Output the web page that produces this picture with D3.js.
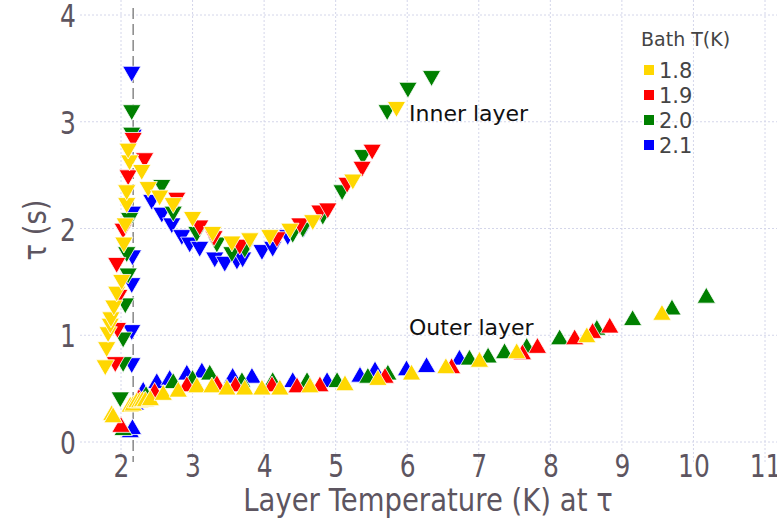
<!DOCTYPE html>
<html>
<head>
<meta charset="utf-8">
<script src="https://cdn.jsdelivr.net/npm/d3@7"></script>
<style>
  body { margin: 0; background: #fff; }
  svg { display: block; font-family: "DejaVu Sans", sans-serif; }
</style>
</head>
<body>
<svg id="chart" width="777" height="522"></svg>
<script>
// bath temperatures (legend order)
var bathTemps = ["1.8", "1.9", "2.0", "2.1"];
var xTicks = [2, 3, 4, 5, 6, 7, 8, 9, 10, 11];
var yTicks = [0, 1, 2, 3, 4];
var lambdaT = 2.17;

// inner layer, [layer T, tau]
var inner18 = [[1.78,0.72],[1.80,0.89],[1.82,1.03],[1.85,1.11],[1.86,1.17],[1.90,1.28],[1.94,1.41],[2.01,1.52],
  [2.04,1.87],[2.06,2.05],[2.08,2.24],[2.08,2.36],[2.12,2.64],[2.10,2.75],[2.29,2.55],[2.38,2.39],[2.54,2.31],
  [2.73,2.24],[3.00,2.11],[3.28,1.97],[3.55,1.88],[3.80,1.91],[4.08,1.94],[4.36,2.00],[4.68,2.08],[5.24,2.46],[5.85,3.14]];
var inner19 = [[1.92,0.75],[1.95,1.07],[1.97,1.38],[1.94,1.68],[2.03,2.00],[2.10,2.50],[2.17,2.85],[2.33,2.66],
  [2.78,2.29],[3.10,2.03],[3.30,1.93],[3.66,1.85],[4.18,1.92],[4.50,2.05],[4.78,2.17],[4.89,2.19],[5.16,2.43],
  [5.37,2.58],[5.51,2.74]];
var inner20 = [[1.99,0.42],[2.03,0.75],[2.03,0.98],[2.06,1.30],[2.10,1.58],[2.08,1.78],[2.12,2.10],[2.15,2.90],
  [2.15,3.11],[2.57,2.41],[2.73,2.16],[3.06,1.97],[3.34,1.87],[3.55,1.78],[3.73,1.82],[4.40,1.96],[4.54,2.01],
  [4.82,2.13],[5.09,2.36],[5.38,2.69],[5.72,3.11],[6.01,3.32],[6.34,3.43]];
var inner21 = [[2.15,0.74],[2.15,1.05],[2.15,1.49],[2.16,1.75],[2.16,2.16],[2.17,2.88],[2.15,3.47],[2.43,2.27],
  [2.57,2.15],[2.71,2.05],[2.85,1.94],[2.96,1.87],[3.10,1.83],[3.31,1.73],[3.45,1.69],[3.62,1.71],[3.70,1.73],
  [3.97,1.80],[4.12,1.83],[4.33,1.94],[4.55,2.01]];

// outer layer
var outer18 = [[1.87,0.25],[1.89,0.23],[2.13,0.33],[2.17,0.34],[2.22,0.37],[2.26,0.37],[2.30,0.38],[2.34,0.38],
  [2.41,0.39],[2.59,0.44],[2.80,0.47],[3.06,0.51],[3.27,0.51],[3.48,0.49],[3.73,0.49],[3.97,0.49],[4.22,0.49],
  [4.64,0.51],[5.13,0.53],[5.59,0.58],[6.06,0.63],[6.54,0.69],[7.01,0.75],[7.53,0.83],[8.51,0.98],[9.56,1.19]];
var outer19 = [[2.00,0.14],[2.25,0.40],[2.47,0.46],[2.92,0.52],[3.34,0.53],[3.60,0.52],[4.11,0.52],[4.46,0.51],
  [4.78,0.52],[5.69,0.60],[6.62,0.69],[7.61,0.82],[7.82,0.88],[8.34,0.96],[8.59,1.02],[8.83,1.07]];
var outer20 = [[2.03,0.11],[2.35,0.43],[2.73,0.55],[3.00,0.58],[3.24,0.63],[3.69,0.56],[4.12,0.56],[4.60,0.56],
  [5.02,0.56],[5.45,0.60],[5.73,0.63],[6.87,0.77],[7.13,0.79],[7.36,0.83],[7.67,0.88],[8.13,0.96],[8.65,1.05],
  [9.15,1.14],[9.70,1.24],[10.18,1.35]];
var outer21 = [[2.13,0.09],[2.16,0.12],[2.20,0.35],[2.31,0.47],[2.50,0.55],[2.68,0.58],[2.92,0.63],[3.13,0.65],
  [3.56,0.60],[3.83,0.60],[4.40,0.56],[4.88,0.56],[5.34,0.61],[5.55,0.66],[5.99,0.67],[6.27,0.70],[6.73,0.77]];

var colors = {"1.8": "#ffd700", "1.9": "#ff0000", "2.0": "#008000", "2.1": "#0000ff"};
var series = [
  {bath: "2.1", inner: inner21, outer: outer21},
  {bath: "2.0", inner: inner20, outer: outer20},
  {bath: "1.9", inner: inner19, outer: outer19},
  {bath: "1.8", inner: inner18, outer: outer18}
];

var svg = d3.select("#chart");
var plot = {left: 80, right: 790, top: 0, bottom: 462};

var x = d3.scaleLinear().domain([2, 11]).range([121, 765]);
var y = d3.scaleLinear().domain([0, 4]).range([442, 15]);

// grid
var grid = svg.append("g").attr("class", "grid");
grid.selectAll(".gx").data(xTicks).enter().append("line")
  .attr("x1", function(d) { return x(d); }).attr("x2", function(d) { return x(d); })
  .attr("y1", plot.top).attr("y2", plot.bottom)
  .attr("stroke", "#d4d6ea").attr("stroke-width", 1).attr("stroke-dasharray", "2,2");
grid.selectAll(".gy").data(yTicks).enter().append("line")
  .attr("x1", plot.left).attr("x2", plot.right)
  .attr("y1", function(d) { return y(d); }).attr("y2", function(d) { return y(d); })
  .attr("stroke", "#d4d6ea").attr("stroke-width", 1).attr("stroke-dasharray", "2,2");

// lambda line
svg.append("line")
  .attr("x1", x(lambdaT)).attr("x2", x(lambdaT))
  .attr("y1", 8).attr("y2", plot.bottom)
  .attr("stroke", "#888").attr("stroke-width", 1.5).attr("stroke-dasharray", "11,5");

// axes text (condensed look)
var tickColor = "#5d5560";
var xAx = svg.append("g").attr("transform", "translate(0,477)")
  .call(d3.axisBottom(x).tickValues(xTicks).tickFormat(d3.format("d")).tickSize(0).tickPadding(0));
xAx.select(".domain").remove();
xAx.selectAll("text").attr("fill", tickColor).attr("font-size", 32)
  .attr("font-family", "DejaVu Sans").attr("dy", 0).attr("y", 0)
  .attr("transform", "scale(0.78,1)");

var yAx = svg.append("g").attr("transform", "translate(76,0)")
  .call(d3.axisLeft(y).tickValues(yTicks).tickFormat(d3.format("d")).tickSize(0).tickPadding(0));
yAx.select(".domain").remove();
yAx.selectAll("text").attr("fill", tickColor).attr("font-size", 32)
  .attr("font-family", "DejaVu Sans").attr("dy", "0.36em")
  .attr("transform", "scale(0.78,1)");

svg.append("text")
  .attr("transform", "translate(428,511) scale(0.86,1)")
  .attr("text-anchor", "middle").attr("fill", tickColor).attr("font-size", 32)
  .text("Layer Temperature (K) at τ");
svg.append("text")
  .attr("transform", "translate(46,230) rotate(-90) scale(0.86,1)")
  .attr("text-anchor", "middle").attr("fill", tickColor).attr("font-size", 32)
  .text("τ (s)");

// markers
var tri = d3.symbol().type(d3.symbolTriangle).size(145);
series.forEach(function(s) {
  var g = svg.append("g").attr("class", "bath-" + s.bath);
  g.selectAll(".in").data(s.inner).enter().append("path")
    .attr("d", tri)
    .attr("transform", function(d) { return "translate(" + x(d[0]) + "," + y(d[1]) + ") rotate(180)"; })
    .attr("fill", colors[s.bath]).attr("stroke", "#fff").attr("stroke-width", 0.8);
  g.selectAll(".out").data(s.outer).enter().append("path")
    .attr("d", tri)
    .attr("transform", function(d) { return "translate(" + x(d[0]) + "," + y(d[1]) + ")"; })
    .attr("fill", colors[s.bath]).attr("stroke", "#fff").attr("stroke-width", 0.8);
});

// annotations
svg.append("text").attr("x", 409).attr("y", 121).attr("font-size", 22).attr("fill", "#111").text("Inner layer");
svg.append("text").attr("x", 409).attr("y", 335).attr("font-size", 22).attr("fill", "#111").text("Outer layer");

// legend
var legend = svg.append("g").attr("transform", "translate(641,0)");
legend.append("text").attr("x", 0).attr("y", 46).attr("font-size", 19).attr("fill", "#444").text("Bath T(K)");
var items = legend.selectAll(".item").data(bathTemps).enter().append("g")
  .attr("transform", function(d, i) { return "translate(0," + (71 + i * 25) + ")"; });
items.append("rect").attr("x", 3).attr("y", -6).attr("width", 10).attr("height", 10)
  .attr("fill", function(d) { return colors[d]; });
items.append("text").attr("x", 18).attr("y", 7).attr("font-size", 21).attr("fill", "#444")
  .text(function(d) { return d; });
</script>
</body>
</html>
